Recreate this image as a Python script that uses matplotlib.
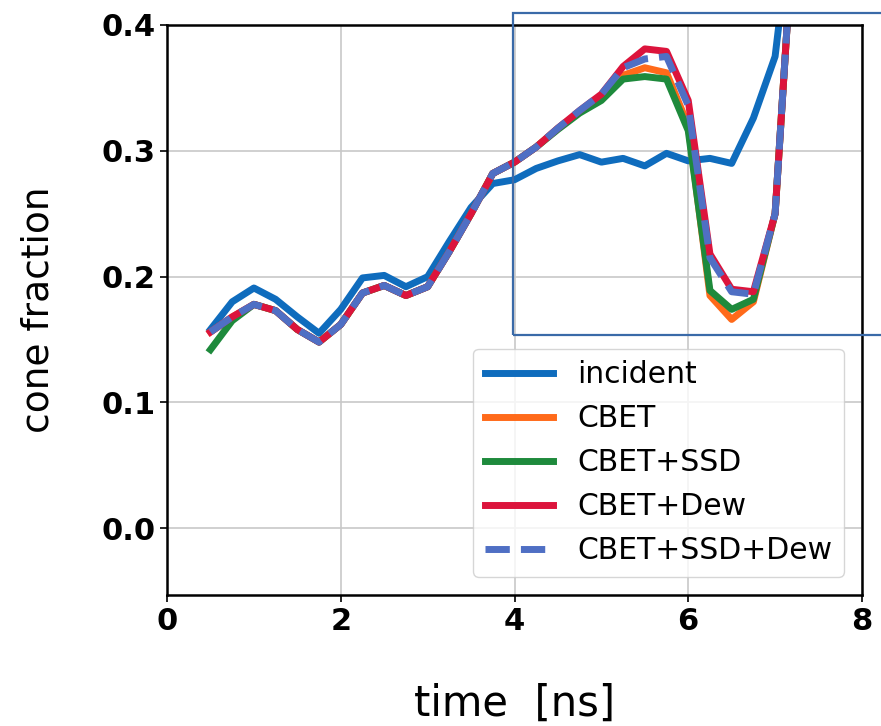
import numpy as np
import matplotlib
matplotlib.use("Agg")
import matplotlib.pyplot as plt
from matplotlib.patches import Rectangle

# time axis [ns]
t = np.arange(0.5, 7.26, 0.25)

incident = [0.158, 0.180, 0.191, 0.182, 0.168, 0.155, 0.174, 0.199, 0.201, 0.192,
            0.200, 0.228, 0.255, 0.274, 0.277, 0.286, 0.292, 0.297, 0.291, 0.294,
            0.288, 0.298, 0.292, 0.294, 0.290, 0.326, 0.375, 0.52]
cbet = [0.156, 0.168, 0.178, 0.173, 0.158, 0.148, 0.162, 0.187, 0.193, 0.185,
        0.192, 0.220, 0.250, 0.282, 0.291, 0.303, 0.318, 0.331, 0.342, 0.360,
        0.366, 0.362, 0.320, 0.185, 0.166, 0.180, 0.250, 0.52]
cbet_ssd = [0.142, 0.165, 0.178, 0.173, 0.158, 0.148, 0.162, 0.187, 0.193, 0.185,
            0.192, 0.220, 0.250, 0.282, 0.291, 0.303, 0.317, 0.330, 0.340, 0.357,
            0.359, 0.357, 0.316, 0.189, 0.174, 0.182, 0.250, 0.52]
cbet_dew = [0.156, 0.168, 0.178, 0.173, 0.158, 0.148, 0.162, 0.187, 0.193, 0.185,
            0.192, 0.220, 0.250, 0.282, 0.291, 0.303, 0.318, 0.332, 0.345, 0.367,
            0.381, 0.379, 0.340, 0.218, 0.190, 0.188, 0.250, 0.52]
cbet_ssd_dew = [0.156, 0.168, 0.178, 0.173, 0.158, 0.148, 0.162, 0.187, 0.193, 0.185,
                0.192, 0.220, 0.250, 0.282, 0.291, 0.303, 0.318, 0.332, 0.345, 0.366,
                0.373, 0.375, 0.336, 0.215, 0.188, 0.186, 0.250, 0.52]

fig = plt.figure(figsize=(8.81, 7.26), dpi=100)
ax = fig.add_axes([0.1896, 0.1804, 0.7888, 0.7852])

lw = 5
ax.plot(t, incident, color='#0f6cbd', lw=lw, label='incident')
ax.plot(t, cbet, color='#ff6a1a', lw=lw, label='CBET')
ax.plot(t, cbet_ssd, color='#1e8a3c', lw=lw, label='CBET+SSD')
ax.plot(t, cbet_dew, color='#dc143c', lw=lw, label='CBET+Dew')
ax.plot(t, cbet_ssd_dew, color='#4f6fc4', lw=lw, ls='--', dashes=(3.5, 1.6),
        label='CBET+SSD+Dew')

ax.set_xlim(0, 8)
ax.set_ylim(-0.053, 0.4)
ax.set_xticks([0, 2, 4, 6, 8])
ax.set_yticks([0.0, 0.1, 0.2, 0.3, 0.4])
ax.grid(True, color='#c8c8c8', lw=1.2)
ax.tick_params(labelsize=22, length=5, width=1.2)
for lab in ax.get_xticklabels() + ax.get_yticklabels():
    lab.set_fontweight('bold')
for sp in ax.spines.values():
    sp.set_linewidth(1.8)

ax.set_xlabel('time  [ns]', fontsize=30, labelpad=34)
ax.set_ylabel('cone fraction', fontsize=27, labelpad=32)

leg = ax.legend(loc='lower right', fontsize=21.5, handlelength=2.3,
                labelspacing=0.5, borderaxespad=0.6)

# zoom box
fig.patches.append(Rectangle((0.5823, 0.5386), 0.45, 0.4434,
                             transform=fig.transFigure, fill=False,
                             edgecolor='#3a6aa8', lw=1.6, clip_on=False))

fig.savefig('out.png', dpi=100)
